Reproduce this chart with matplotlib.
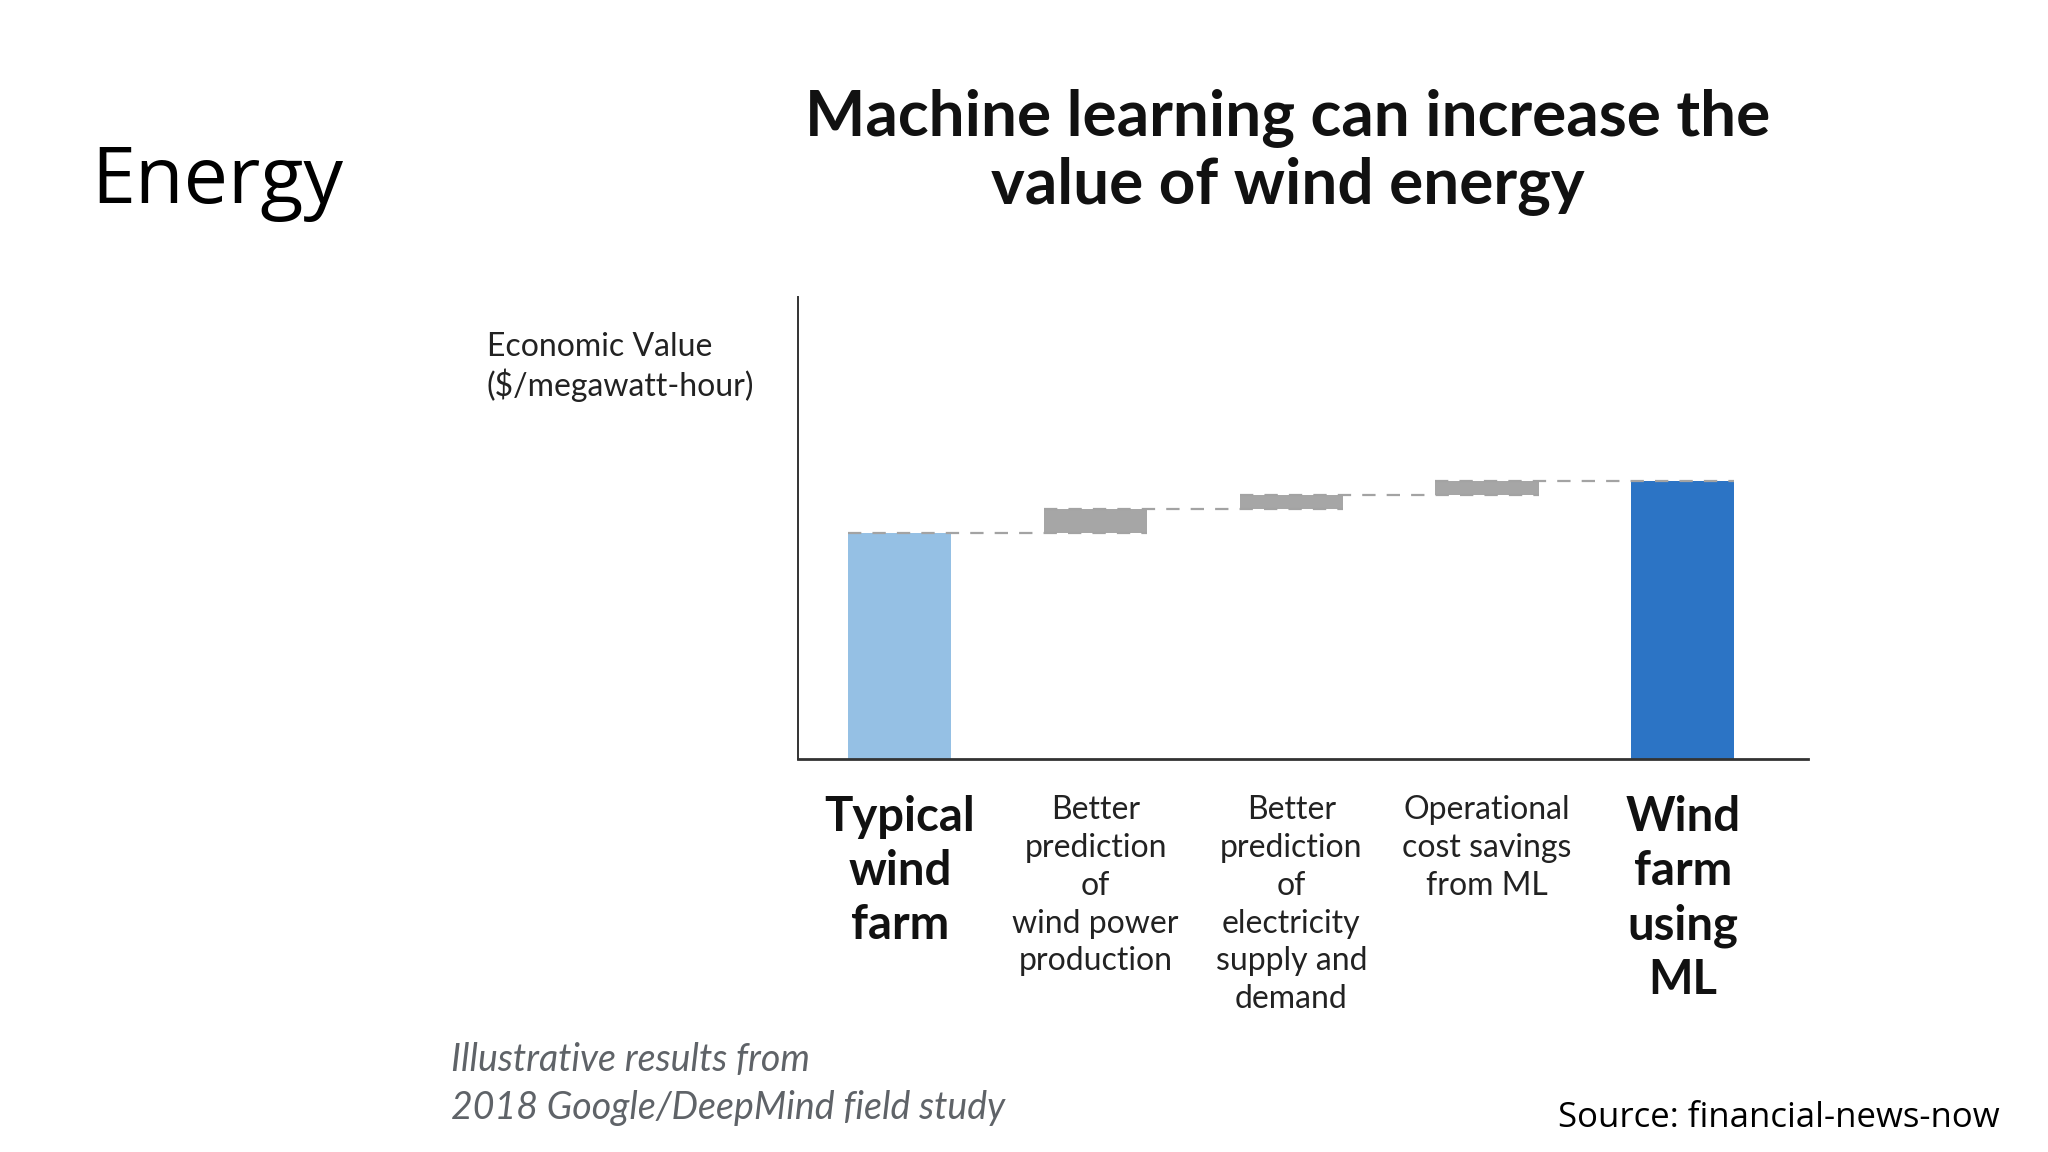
import matplotlib
matplotlib.use('Agg')
import matplotlib.pyplot as plt
import numpy as np

# ---- data ----
categories = [
    "Typical\nwind\nfarm",
    "Better\nprediction\nof\nwind power\nproduction",
    "Better\nprediction\nof\nelectricity\nsupply and\ndemand",
    "Operational\ncost savings\nfrom ML",
    "Wind\nfarm\nusing\nML",
]
base_value = 100.0
increments = [10.6, 6.2, 6.2]
bar_kinds = ["total", "step", "step", "step", "total"]
bar_colors = ["#95C0E4", "#A6A6A6", "#A6A6A6", "#A6A6A6", "#2C74C5"]

x = np.arange(len(categories))
cum = base_value + np.cumsum(increments)
heights = [base_value] + increments + [cum[-1]]
bottoms = [0.0, base_value, cum[0], cum[1], 0.0]
tops = [b + h for b, h in zip(bottoms, heights)]

fig = plt.figure(figsize=(20.48, 11.52), dpi=100)
fig.patch.set_facecolor('white')
ax = fig.add_axes([798/2048, 1-759/1152, (1808-798)/2048, (759-297)/1152])

w = 0.527
ax.bar(x, heights, bottom=bottoms, width=w, color=bar_colors, zorder=2)
for i in range(len(x) - 1):
    lvl = tops[i]
    ax.plot([x[i] - w/2, x[i+1] + w/2], [lvl, lvl], linestyle=(0, (6, 5)),
            color='#A3A3A3', lw=1.6, zorder=3)

ax.set_xlim(-0.52, 4.64)
ax.set_ylim(0, 204.4)
for s in ['top', 'right']:
    ax.spines[s].set_visible(False)
ax.spines['left'].set_color('#333333')
ax.spines['left'].set_linewidth(1.4)
ax.spines['bottom'].set_color('#333333')
ax.spines['bottom'].set_linewidth(2.0)
ax.set_yticks([])
ax.set_xticks(x)
ax.set_xticklabels(categories)
ax.tick_params(axis='x', length=0, pad=26)
for lbl, kind in zip(ax.get_xticklabels(), bar_kinds):
    lbl.set_family('Lato')
    lbl.set_multialignment('center')
    if kind == 'total':
        lbl.set_fontsize(34)
        lbl.set_fontweight('bold')
        lbl.set_linespacing(1.28)
        lbl.set_color('#111111')
    else:
        lbl.set_fontsize(23)
        lbl.set_fontweight('normal')
        lbl.set_linespacing(1.325)
        lbl.set_color('#222222')

# texts
fig.text(91/2048, 1-182/1152, "Energy", family='Open Sans', fontsize=57,
         ha='left', va='center', color='black')
fig.text(1288/2048, 1-151.5/1152, "Machine learning can increase the\nvalue of wind energy",
         family='Lato', fontweight='bold', fontsize=46, ha='center', va='center',
         linespacing=1.2, color='#111111')
fig.text(487/2048, 1-367/1152, "Economic Value\n($/megawatt-hour)", family='Lato',
         fontweight='normal', fontsize=23, ha='left', va='center', linespacing=1.2,
         color='#222222')
fig.text(451/2048, 1-1084/1152, "Illustrative results from\n2018 Google/DeepMind field study",
         family='Lato', style='italic', fontsize=27, ha='left', va='center',
         linespacing=1.42, color='#5f6368')
fig.text(2000/2048, 1-1118/1152, "Source: financial-news-now", family='Open Sans',
         fontsize=25, ha='right', va='center', color='black')

fig.savefig('out.png', dpi=100, facecolor='white')
